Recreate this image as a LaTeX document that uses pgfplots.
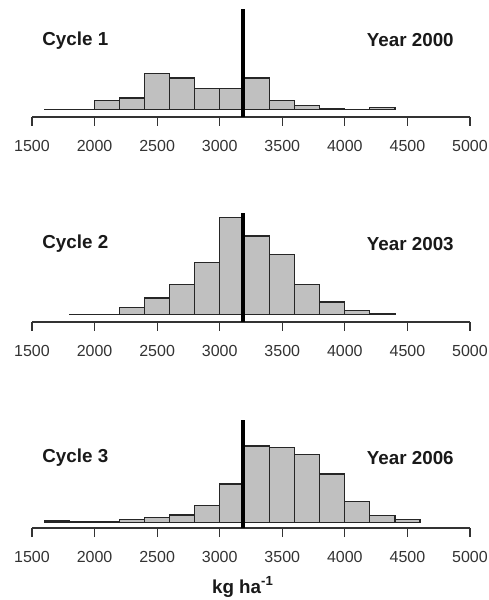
\documentclass[border=0pt]{standalone}
\usepackage{fontspec}
\setmainfont{Liberation Sans}
\usepackage{pgfplots}
\pgfplotsset{compat=1.18}
\definecolor{barfill}{HTML}{C0C0C0}
\pgfplotsset{
  hist/.style={scale only axis, width=219pt, height=55pt,
    xmin=1500, xmax=5000,
    axis x line*=bottom, axis y line=none,
    xtick={1500,2000,...,5000}, tick align=outside, major tick length=4.5pt,
    x axis line style={line width=0.6pt, black!80},
    xtick style={line width=0.6pt, black!80},
    ticklabel style={font=\fontsize{8}{9}\selectfont, text=black!80},
    xticklabel style={yshift=-3.5pt},
    /pgf/number format/1000 sep={}, /pgf/number format/assume math mode=true,
    clip=false, anchor=south west},
  bars/.style={ybar interval, fill=barfill, draw=black!85, line width=0.6pt},
  vline/.style={line width=1.7pt, black}
}
\tikzset{lab/.style={font=\bfseries\fontsize{9.4}{11}\selectfont, text=black!90}}
\begin{document}
\begin{tikzpicture}
\path[use as bounding box] (0,0) rectangle (244pt,300pt);
% Panel 1
\begin{axis}[hist, at={(16pt,241.5pt)}, ymin=-22, ymax=308]
\addplot[bars] coordinates {(1600,1.5) (1800,1.5) (2000,28) (2200,35) (2400,108) (2600,95) (2800,63) (3000,63) (3200,95) (3400,28) (3600,13) (3800,2) (4000,0) (4200,6) (4400,0)};
\addplot[vline] coordinates {(3185,-22) (3185,303)};
\node[lab, anchor=west, inner sep=0pt] at (axis cs:1580,208) {Cycle 1};
\node[lab, anchor=east, inner sep=0pt] at (axis cs:4873,208) {Year 2000};
\end{axis}
% Panel 2
\begin{axis}[hist, at={(16pt,139pt)}, ymin=-22, ymax=308]
\addplot[bars] coordinates {(1800,1) (2000,1) (2200,21) (2400,50) (2600,90) (2800,156) (3000,291) (3200,236) (3400,180) (3600,90) (3800,38) (4000,13) (4200,2) (4400,0)};
\addplot[vline] coordinates {(3185,-22) (3185,305)};
\node[lab, anchor=west, inner sep=0pt] at (axis cs:1580,213) {Cycle 2};
\node[lab, anchor=east, inner sep=0pt] at (axis cs:4873,213) {Year 2003};
\end{axis}
% Panel 3
\begin{axis}[hist, at={(16pt,36pt)}, ymin=-17, ymax=313]
\addplot[bars] coordinates {(1600,4) (1800,1) (2000,1) (2200,8) (2400,15) (2600,22) (2800,51) (3000,115) (3200,229) (3400,225) (3600,204) (3800,145) (4000,63) (4200,21) (4400,9) (4600,0)};
\addplot[vline] coordinates {(3185,-17) (3185,306)};
\node[lab, anchor=west, inner sep=0pt] at (axis cs:1580,193) {Cycle 3};
\node[lab, anchor=east, inner sep=0pt] at (axis cs:4873,193) {Year 2006};
\end{axis}
\node[lab] at (121.5pt,6.5pt) {kg ha\textsuperscript{-1}};
\end{tikzpicture}
\end{document}
